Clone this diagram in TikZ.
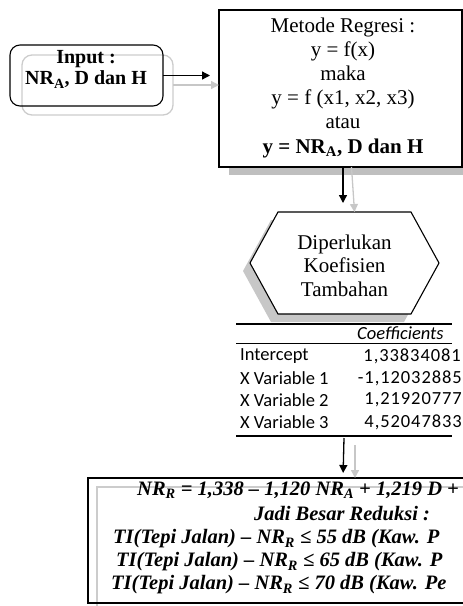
\documentclass[tikz,border=0pt]{standalone}
\usepackage{fontspec}
\setmainfont{Liberation Serif}
\newfontfamily\tabfont{Carlito}
\newfontfamily\numfont[LetterSpace=5]{Carlito}
\usetikzlibrary{arrows.meta}
\begin{document}
\begin{tikzpicture}[x=1pt,y=-1pt,
  blk/.style={draw=black, line width=1.1pt},
  shdline/.style={draw=black!20, line width=1.3pt},
  arr/.style={line width=1.3pt, -{Triangle[length=8pt,width=8pt]}},
  sarr/.style={draw=black!22, line width=1.3pt, -{Triangle[length=8pt,width=8pt]}},
  boxtxt/.style={font=\fontsize{21}{24.2}\selectfont, align=center, inner sep=0pt},
  restxt/.style={font=\fontsize{20.5}{24}\selectfont\bfseries\itshape, inner sep=0pt},
  tabtxt/.style={font=\tabfont\fontsize{18.5}{20}\selectfont, inner sep=0pt},
  numtxt/.style={font=\numfont\fontsize{18.5}{20}\selectfont, inner sep=0pt, anchor=east},
  box/.style={inner sep=0pt, outer sep=0pt}]
\useasboundingbox (0,0) rectangle (463,606);
\clip (0,0) rectangle (463,606);

% ---------- Input box ----------
\node[box, shdline, rounded corners=10pt, minimum width=151, minimum height=60] (inpsh) at (97.5,85) {};
\node[box, blk, rounded corners=10pt, minimum width=153, minimum height=61] (inp) at (86.5,75.5) {};
\node[boxtxt, font=\fontsize{20}{21}\selectfont\bfseries] (inptxt) at (86,69.5) {Input :\\NR\textsubscript{A}, D dan H};

% ---------- Metode box ----------
\node[box, fill=black!25, minimum width=243, minimum height=157] (metsh) at (350.5,96.5) {};
\node[box, blk, fill=white, minimum width=243, minimum height=157] (met) at (340.5,88.5) {};
\node[boxtxt] (mettxt) at (343,87.5) {Metode Regresi :\\ y = f(x)\\ maka\\ y = f (x1, x2, x3)\\ atau\\ \textbf{y = NR\textsubscript{A}, D dan H}};

% arrows input -> metode
\draw[sarr] (inpsh.east) -- (inpsh.east -| met.west);
\draw[arr, shorten >=9pt] (inp.east) -- (inp.east -| met.west);

% ---------- Hexagon ----------
\node[box, minimum width=189, minimum height=102] (hex) at (344.5,263) {};
\fill[black!22] ([shift={(-7,8)}]hex.west) -- ([shift={(21,8)}]hex.north west) -- ([shift={(-35,8)}]hex.north east)
  -- ([shift={(-7,8)}]hex.east) -- ([shift={(-35,8)}]hex.south east) -- ([shift={(21,8)}]hex.south west) -- cycle;
\draw[blk, fill=white] (hex.west) -- ([xshift=28]hex.north west) -- ([xshift=-28]hex.north east)
  -- (hex.east) -- ([xshift=-28]hex.south east) -- ([xshift=28]hex.south west) -- cycle;
\node[boxtxt, font=\fontsize{21}{23.5}\selectfont] (hextxt) at (344.5,265.5) {Diperlukan\\ Koefisien\\ Tambahan};

% arrows metode -> hexagon
\draw[sarr] ([xshift=11]met.south) -- ([xshift=10]hex.north);
\draw[arr, shorten >=9pt] ([xshift=2.5]met.south) -- ([xshift=-1.5]hex.north);

% ---------- Table ----------
\node[box, minimum width=216, minimum height=112] (tbl) at (344,380) {};
\draw[line width=2pt] (tbl.north west) -- (tbl.north east);
\draw[line width=0.8pt] ([yshift=-19pt]tbl.north west) -- ([yshift=-19pt]tbl.north east);
\draw[line width=2pt] (tbl.south west) -- (tbl.south east);
\node[tabtxt, anchor=west, font=\tabfont\itshape\fontsize{18.5}{20}\selectfont] (hdr) at (357,333) {Coefficients};
\node[tabtxt, anchor=west] (r0) at (240,356) {Intercept};
\node[tabtxt, anchor=west] (r1) at (240,378) {X Variable 1};
\node[tabtxt, anchor=west] (r2) at (240,400) {X Variable 2};
\node[tabtxt, anchor=west] (r3) at (240,422) {X Variable 3};
\node[numtxt] (v0) at (461,356) {1,33834081};
\node[numtxt] (v1) at (462,378) {-1,12032885};
\node[numtxt] (v2) at (462,400) {1,21920777};
\node[numtxt] (v3) at (462,422) {4,52047833};

% ---------- Result box ----------
\node[box, shdline, minimum width=510, minimum height=125] (ressh) at (352,549.5) {};
\node[box, blk, minimum width=510, minimum height=125] (res) at (343,540.5) {};

% arrows table -> result
\draw[sarr] ([xshift=11pt,yshift=-9pt]tbl.south) -- ([xshift=12]res.north);
\draw[arr, shorten >=5pt] ([yshift=-2pt]tbl.south) -- (res.north);

\node[restxt, anchor=west] (l1) at (137,490) {NR\textsubscript{R} = 1,338 – 1,120 NR\textsubscript{A} + 1,219 D +};
\node[restxt] (l2) at (342,514) {Jadi Besar Reduksi :};
\node[restxt, anchor=west] (l3) at (113,539) {TI(Tepi Jalan) – NR\textsubscript{R} ≤ 55 dB (Kaw. P};
\node[restxt, anchor=west] (l4) at (116,562) {TI(Tepi Jalan) – NR\textsubscript{R} ≤ 65 dB (Kaw. P};
\node[restxt, anchor=west] (l5) at (111,585) {TI(Tepi Jalan) – NR\textsubscript{R} ≤ 70 dB (Kaw. Pe};
\end{tikzpicture}
\end{document}
